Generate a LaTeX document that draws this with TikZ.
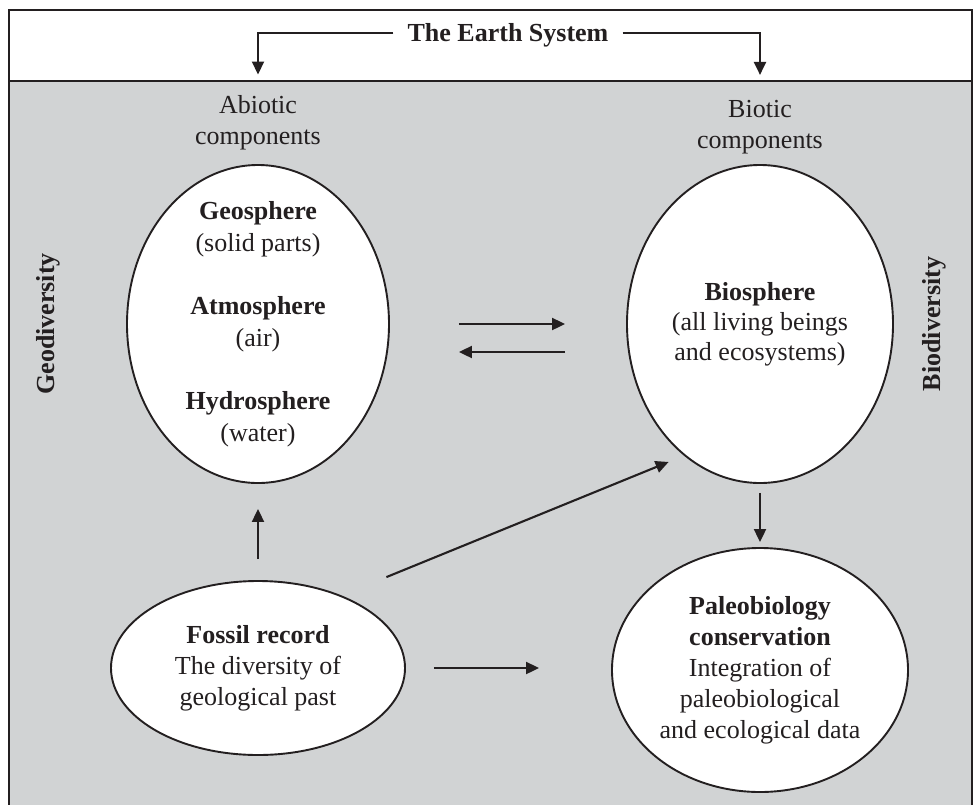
\documentclass[tikz,border=0pt]{standalone}
\usepackage{fontspec}
\setmainfont{Liberation Serif}
\usetikzlibrary{arrows.meta,shapes.geometric}
\definecolor{bandgrey}{HTML}{D1D3D4}
\definecolor{ink}{HTML}{231F20}
\tikzset{
  arr/.style={draw=ink, line width=2.1pt, -{Triangle[length=13pt,width=12pt]}},
  ell/.style={ellipse, draw=ink, line width=1.9pt, fill=white, inner sep=0pt},
  txt/.style={inner sep=0pt, align=center, text=ink},
}
\begin{document}
\begin{tikzpicture}[x=1pt,y=-1pt,font=\fontsize{26}{31}\selectfont]
\useasboundingbox (0,0) rectangle (975,804);
\clip (0,0) rectangle (975,804);
% frame and bands
\fill[white] (9,10) rectangle (972,81);
\fill[bandgrey] (9,81) rectangle (972,830);
\draw[ink, line width=1.3pt] (9,81) -- (972,81);
\draw[ink, line width=2.6pt] (9,830) -- (9,10) -- (972,10) -- (972,830);

% top title
\node[txt, font=\fontsize{26}{31}\selectfont\bfseries, anchor=base] (earth) at (508,41) {The Earth System};
\node[txt] (abio) at (258,123) {Abiotic\\components};
\node[txt] (bioti) at (760,127) {Biotic\\components};
\draw[arr, shorten >=21pt] ([xshift=-14pt,yshift=8pt]earth.base west) -| (abio.north);
\draw[arr, shorten >=25pt] ([xshift=14pt,yshift=8pt]earth.base east) -| (bioti.north);

% side labels
\node[txt, font=\fontsize{26}{31}\selectfont\bfseries, rotate=90] (geodiv) at (48,324) {Geodiversity};
\node[txt, font=\fontsize{26}{31}\selectfont\bfseries, rotate=90] (biodiv) at (934,324) {Biodiversity};

% ellipses (outlines)
\node[ell, minimum width=262pt, minimum height=318pt] (geo) at (258,324) {};
\node[ell, minimum width=266pt, minimum height=318pt] (bio) at (760,324) {};
\node[ell, minimum width=294pt, minimum height=174pt] (fossil) at (258,668) {};
\node[ell, minimum width=296pt, minimum height=244pt] (paleo) at (760,670) {};

% ellipse texts
\node[txt, font=\fontsize{26}{32}\selectfont] (geotxt) at (geo.center)
  {\textbf{Geosphere}\\(solid parts)\\[31pt]\textbf{Atmosphere}\\(air)\\[31pt]\textbf{Hydrosphere}\\(water)};
\node[txt, font=\fontsize{26}{30}\selectfont] (biotxt) at (bio.center)
  {\textbf{Biosphere}\\(all living beings\\and ecosystems)};
\node[txt] (fossiltxt) at (fossil.center)
  {\textbf{Fossil record}\\The diversity of\\geological past};
\node[txt] (paleotxt) at (paleo.center)
  {\textbf{Paleobiology}\\\textbf{conservation}\\Integration of\\paleobiological\\and ecological data};

% connectors
\draw[arr, shorten <=69pt, shorten >=61pt] (geo.east) -- (bio.west);
\draw[arr, shorten <=61pt, shorten >=69pt] ([yshift=-28pt]bio.west) -- ([yshift=-28pt]geo.east);
\draw[arr, shorten <=21pt, shorten >=25pt] (fossil.north) -- (geo.south);
\draw[arr, shorten <=9pt, shorten >=5pt] (bio.south) -- (paleo.north);
\draw[arr, shorten <=48.5pt, shorten >=16.6pt] (fossil.41) -- (bio.240.5);
\draw[arr, shorten <=28pt, shorten >=72pt] (fossil.east) -- (fossil.east -| paleo.west);
\end{tikzpicture}
\end{document}
